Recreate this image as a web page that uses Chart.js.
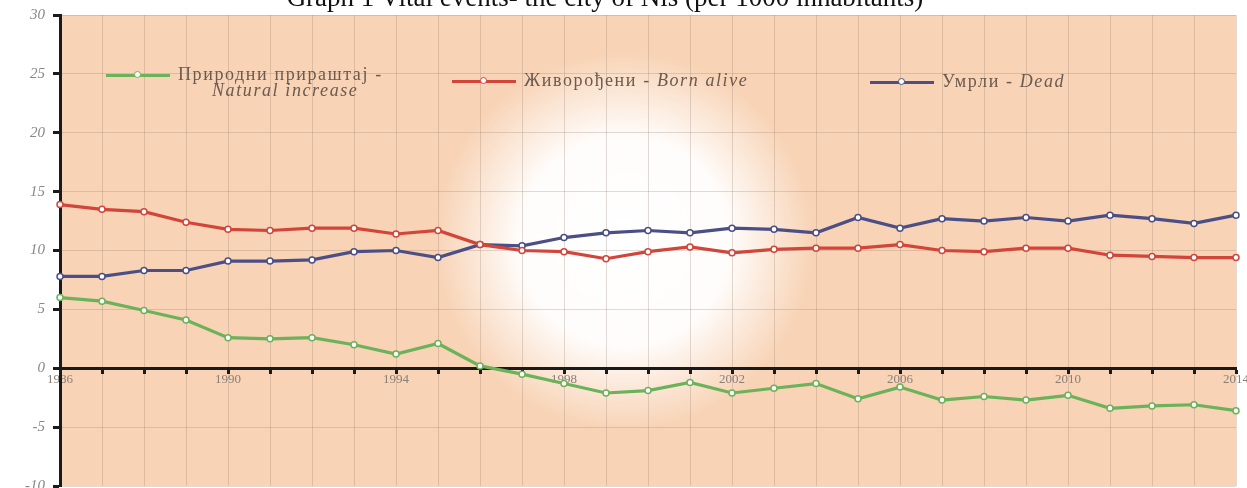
<!DOCTYPE html>
<html>
<head>
<meta charset="utf-8">
<script src="https://cdn.jsdelivr.net/npm/chart.js@4"></script>
<style>
  html, body { margin: 0; padding: 0; background: #fff; }
  #wrap { position: relative; width: 1247px; height: 488px; overflow: hidden; }
  #title {
    position: absolute; left: 0; width: 1210px; top: -16px; text-align: center;
    font-family: "Liberation Serif", "DejaVu Serif", serif; font-size: 27px; line-height: 27px; color: #111;
    z-index: 2;
  }
  .leg {
    position: absolute; font-family: "Liberation Serif", serif; font-size: 18px; letter-spacing: 1.6px; color: #6a5a50;
    line-height: 16px; z-index: 2; white-space: nowrap;
  }
  .leg .ln { display: inline-block; position: relative; width: 64px; height: 3px; vertical-align: middle; margin-right: 8px; }
  .leg .ln i { position: absolute; left: 28px; top: -3px; width: 7px; height: 7px; border-radius: 50%; background: #fff; border: 1.5px solid; box-sizing: border-box; }
  .leg em { display: block; padding-left: 106px; }
</style>
</head>
<body>
<div id="wrap">
  <div id="title">Graph 1 Vital events- the city of Nis (per 1000 inhabitants)</div>
  <canvas id="chart" width="1247" height="488"></canvas>
  <div class="leg" style="left:106px; top:66px;"><span class="ln" style="background:#6cb25a"><i style="border-color:#6cb25a"></i></span>Природни прираштај -<em>Natural increase</em></div>
  <div class="leg" style="left:452px; top:72px;"><span class="ln" style="background:#d2453b"><i style="border-color:#d2453b"></i></span>Живорођени - <i>Born alive</i></div>
  <div class="leg" style="left:870px; top:73px;"><span class="ln" style="background:#4b4f86"><i style="border-color:#4b4f86"></i></span>Умрли - <i>Dead</i></div>
</div>
<script>
const years = ['1986','1987','1988','1989','1990','1991','1992','1993','1994','1995',
  '1996','1997','1998','1999','2000','2001','2002','2003','2004','2005',
  '2006','2007','2008','2009','2010','2011','2012','2013','2014'];

const naturalIncrease = [6.0, 5.7, 4.9, 4.1, 2.6, 2.5, 2.6, 2.0, 1.2, 2.1,
  0.2, -0.5, -1.3, -2.1, -1.9, -1.2, -2.1, -1.7, -1.3, -2.6,
  -1.6, -2.7, -2.4, -2.7, -2.3, -3.4, -3.2, -3.1, -3.6];

const bornAlive = [13.9, 13.5, 13.3, 12.4, 11.8, 11.7, 11.9, 11.9, 11.4, 11.7,
  10.5, 10.0, 9.9, 9.3, 9.9, 10.3, 9.8, 10.1, 10.2, 10.2,
  10.5, 10.0, 9.9, 10.2, 10.2, 9.6, 9.5, 9.4, 9.4];

const dead = [7.8, 7.8, 8.3, 8.3, 9.1, 9.1, 9.2, 9.9, 10.0, 9.4,
  10.5, 10.4, 11.1, 11.5, 11.7, 11.5, 11.9, 11.8, 11.5, 12.8,
  11.9, 12.7, 12.5, 12.8, 12.5, 13.0, 12.7, 12.3, 13.0];

const labelYears = ['1986','1990','1994','1998','2002','2006','2010','2014'];

// peach plot background with the white glow in the middle
const plotBackground = {
  id: 'plotBackground',
  beforeDraw(chart) {
    const { ctx, chartArea: a } = chart;
    ctx.save();
    ctx.fillStyle = '#f8d3b5';
    ctx.fillRect(a.left, a.top, a.right - a.left, a.bottom - a.top);
    const cx = a.left + (a.right - a.left) * 0.48;
    const cy = a.top + (a.bottom - a.top) * 0.48;
    const g = ctx.createRadialGradient(cx, cy, 0, cx, cy, 190);
    g.addColorStop(0, 'rgba(255,255,255,1)');
    g.addColorStop(0.55, 'rgba(255,255,255,0.95)');
    g.addColorStop(1, 'rgba(255,255,255,0)');
    ctx.fillStyle = g;
    ctx.fillRect(a.left, a.top, a.right - a.left, a.bottom - a.top);
    ctx.restore();
  }
};

function series(data, color) {
  return {
    data: data,
    borderColor: color,
    borderWidth: 3.2,
    pointRadius: 3,
    pointBorderWidth: 1.5,
    pointBackgroundColor: '#fff',
    pointBorderColor: color,
    tension: 0,
  };
}

new Chart(document.getElementById('chart').getContext('2d'), {
  type: 'line',
  data: {
    labels: years,
    datasets: [
      series(naturalIncrease, '#6cb25a'),
      series(bornAlive, '#d2453b'),
      series(dead, '#4b4f86'),
    ]
  },
  plugins: [plotBackground],
  options: {
    responsive: false,
    animation: false,
    layout: { autoPadding: false, padding: { left: 0, right: 11, top: 15, bottom: 2 } },
    plugins: {
      legend: { display: false },
      title: { display: false },
      tooltip: { enabled: false }
    },
    scales: {
      x: {
        position: { y: 0 },
        offset: false,
        border: { color: '#1a1a1a', width: 3 },
        grid: { color: 'rgba(150,125,110,0.28)', tickColor: '#1a1a1a', tickLength: 4, tickWidth: 3 },
        ticks: {
          autoSkip: false,
          maxRotation: 0,
          padding: 0,
          color: '#8a7f78',
          font: { family: 'Liberation Serif', size: 13 },
          callback: function(v) {
            const y = this.getLabelForValue(v);
            return labelYears.includes(y) ? y : '';
          }
        },
        afterFit(scale) { scale.height = 0; scale.paddingRight = 0; scale.paddingLeft = 0; }
      },
      y: {
        min: -10,
        max: 30,
        border: { color: '#1a1a1a', width: 3 },
        grid: { color: 'rgba(150,125,110,0.28)', tickColor: '#1a1a1a', tickLength: 7, tickWidth: 3 },
        ticks: {
          stepSize: 5,
          padding: 8,
          color: '#888',
          font: { family: 'Liberation Serif', size: 15, style: 'italic' }
        },
        afterFit(scale) { scale.width = 60; scale.paddingTop = 0; scale.paddingBottom = 0; }
      }
    }
  }
});
</script>
</body>
</html>
